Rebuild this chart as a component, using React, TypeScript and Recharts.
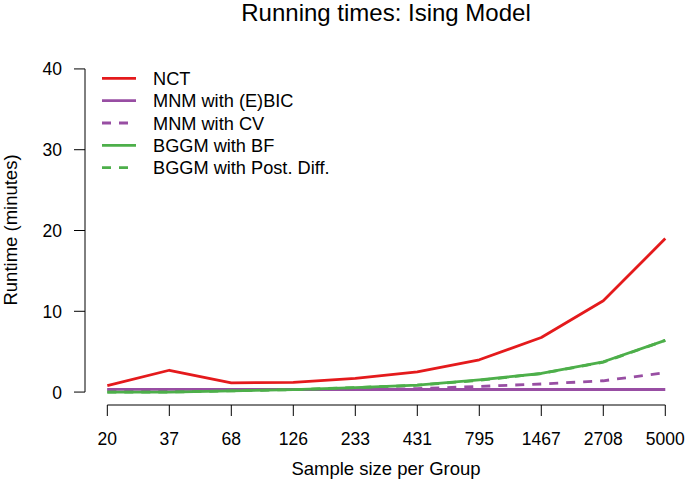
import React from 'react';
import { LineChart, Line, XAxis, YAxis, ReferenceLine, Legend, Customized } from 'recharts';

// ---- data ----
const sampleSizes = ['20', '37', '68', '126', '233', '431', '795', '1467', '2708', '5000'];
const nct = [0.8, 2.7, 1.15, 1.2, 1.7, 2.5, 4.0, 6.75, 11.3, 19.0];
const mnmEbic = [0.33, 0.33, 0.32, 0.32, 0.32, 0.32, 0.32, 0.32, 0.32, 0.32];
const mnmCv = [0.3, 0.3, 0.28, 0.3, 0.33, 0.42, 0.7, 1.0, 1.4, 2.4];
const bggmBf = [0.0, 0.0, 0.15, 0.3, 0.55, 0.87, 1.5, 2.3, 3.75, 6.4];
const bggmPost = [0.0, 0.0, 0.15, 0.3, 0.55, 0.85, 1.45, 2.3, 3.7, 6.4];
const yTicks = [0, 10, 20, 30, 40];
const title = 'Running times: Ising Model';
const xTitle = 'Sample size per Group';
const yTitle = 'Runtime (minutes)';

const series = [
  { key: 'nct', name: 'NCT', values: nct, color: '#E41A1C', dash: undefined as string | undefined },
  { key: 'mnmEbic', name: 'MNM with (E)BIC', values: mnmEbic, color: '#984EA3', dash: undefined },
  { key: 'mnmCv', name: 'MNM with CV', values: mnmCv, color: '#984EA3', dash: '9 8' },
  { key: 'bggmBf', name: 'BGGM with BF', values: bggmBf, color: '#4DAF4A', dash: undefined },
  { key: 'bggmPost', name: 'BGGM with Post. Diff.', values: bggmPost, color: '#4DAF4A', dash: '9 8' },
];

const data = sampleSizes.map((label, i) => {
  const row: Record<string, number | string> = { idx: i, label };
  series.forEach((s) => {
    row[s.key] = s.values[i];
  });
  return row;
});

const FONT = '"Liberation Sans", Arial, Helvetica, sans-serif';
const LW = 2.8;

const XTick = (props: any) => {
  const { x, y, payload } = props;
  return (
    <text x={x} y={y + 29} textAnchor="middle" fontFamily={FONT} fontSize={17.5} fill="#000">
      {sampleSizes[payload.value]}
    </text>
  );
};

const YTick = (props: any) => {
  const { x, y, payload } = props;
  return (
    <text x={x - 12} y={y + 6.5} textAnchor="end" fontFamily={FONT} fontSize={17.5} fill="#000">
      {payload.value}
    </text>
  );
};

const renderLegend = () => (
  <svg width={300} height={115} style={{ display: 'block' }}>
    {series.map((s, i) => {
      const y = 12.3 + i * 22.35;
      return (
        <g key={s.key}>
          <line x1={7} x2={41} y1={y} y2={y} stroke={s.color} strokeWidth={LW} strokeDasharray={s.dash} />
          <text x={58} y={y + 6.5} fontFamily={FONT} fontSize={18.2} fill="#000">
            {s.name}
          </text>
        </g>
      );
    })}
  </svg>
);

const Texts = () => (
  <g>
    <text x={386} y={21} textAnchor="middle" fontFamily={FONT} fontSize={24} fill="#000">
      {title}
    </text>
    <text x={386} y={475} textAnchor="middle" fontFamily={FONT} fontSize={18.5} fill="#000">
      {xTitle}
    </text>
    <text
      x={17}
      y={230}
      textAnchor="middle"
      fontFamily={FONT}
      fontSize={18.5}
      fill="#000"
      transform="rotate(-90, 17, 230)"
    >
      {yTitle}
    </text>
  </g>
);

export default function App() {
  return (
    <div style={{ position: 'absolute', left: 0, top: 0, width: 685, height: 483, background: '#fff' }}>
      <LineChart width={685} height={483} data={data} margin={{ top: 56, right: 0, bottom: 0, left: 0 }}>
        <XAxis
          dataKey="idx"
          type="number"
          domain={[-0.36, 9.318]}
          ticks={[0, 1, 2, 3, 4, 5, 6, 7, 8, 9]}
          allowDataOverflow
          axisLine={false}
          tickLine={{ stroke: '#000', strokeWidth: 1 }}
          tickSize={11}
          tickMargin={0}
          height={78}
          tick={<XTick />}
          interval={0}
        />
        <YAxis
          type="number"
          domain={[-1.6, 41.6]}
          ticks={yTicks}
          allowDataOverflow
          axisLine={false}
          tickLine={{ stroke: '#000', strokeWidth: 1 }}
          tickSize={11}
          tickMargin={0}
          width={85}
          tick={<YTick />}
          interval={0}
        />
        <ReferenceLine
          segment={[{ x: 0, y: -1.6 }, { x: 9, y: -1.6 }]}
          stroke="#000"
          strokeWidth={1}
          ifOverflow="visible"
        />
        <ReferenceLine
          segment={[{ x: -0.36, y: 0 }, { x: -0.36, y: 40 }]}
          stroke="#000"
          strokeWidth={1}
          ifOverflow="visible"
        />
        {series.map((s) => (
          <Line
            key={s.key}
            dataKey={s.key}
            name={s.name}
            stroke={s.color}
            strokeWidth={LW}
            strokeDasharray={s.dash}
            dot={false}
            activeDot={false}
            isAnimationActive={false}
            strokeLinejoin="round"
            type="linear"
          />
        ))}
        <Legend
          layout="vertical"
          align="center"
          verticalAlign="middle"
          content={renderLegend}
          wrapperStyle={{ position: 'absolute', left: 95, top: 66, width: 300, height: 115 }}
        />
        <Customized component={Texts} />
      </LineChart>
    </div>
  );
}
